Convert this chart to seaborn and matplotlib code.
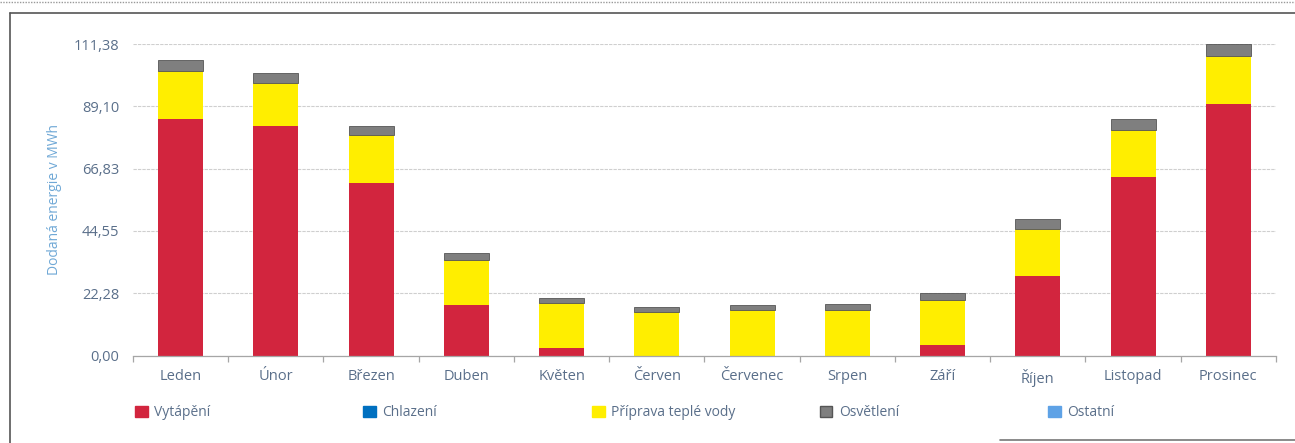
import numpy as np
import pandas as pd
import matplotlib
matplotlib.use("Agg")
import matplotlib.pyplot as plt
from matplotlib.patches import Patch
from matplotlib.lines import Line2D
import seaborn as sns

months = ["Leden", "Únor", "Březen", "Duben", "Květen", "Červen", "Červenec",
          "Srpen", "Září", "Říjen", "Listopad", "Prosinec"]
vytapeni = [84.7, 82.2, 61.8, 18.1, 2.6, 0.0, 0.0, 0.0, 3.7, 28.6, 63.8, 89.9]
chlazeni = [0.0] * 12
priprava_vody = [16.9, 15.2, 17.0, 16.0, 16.2, 15.6, 16.3, 16.4, 16.3, 16.8, 17.0, 17.2]
osvetleni = [4.0, 3.5, 3.4, 2.7, 1.9, 1.9, 1.9, 1.9, 2.5, 3.4, 3.6, 4.2]
ostatni = [0.0] * 12

yticks = [0.00, 22.28, 44.55, 66.83, 89.10, 111.38]
ytick_labels = ["0,00", "22,28", "44,55", "66,83", "89,10", "111,38"]
series_names = ["Vytápění", "Chlazení", "Příprava teplé vody", "Osvětlení", "Ostatní"]
series_colors = ["#D2253E", "#0070C0", "#FFEE00", "#7F7F7F", "#5EA2E6"]
series_edges = ["#D2253E", "#0070C0", "#FFEE00", "#555555", "#5EA2E6"]

sns.set_theme(style="white")
plt.rcParams["font.family"] = ["Open Sans", "DejaVu Sans"]

fig = plt.figure(figsize=(12.95, 4.43), dpi=100)
ax = fig.add_axes([133 / 1295, 1 - 355.5 / 443, (1276 - 133) / 1295, (355.5 - 44) / 443])

df = pd.DataFrame({"month": months, "Vytápění": vytapeni, "Chlazení": chlazeni,
                   "Příprava teplé vody": priprava_vody, "Osvětlení": osvetleni,
                   "Ostatní": ostatni})
bottom = np.zeros(len(months))
for name, col, ec in zip(series_names, series_colors, series_edges):
    vals = df[name].to_numpy()
    sns.barplot(data=df, x="month", y=name, order=months, color=col, ax=ax,
                bottom=bottom, width=0.47, saturation=1, edgecolor=ec,
                linewidth=0.6 if name == "Osvětlení" else 0)
    bottom = bottom + vals

ax.set_ylim(0, 111.38)
ax.set_xlim(-0.5, 11.5)
ax.set_yticks(yticks)
ax.set_yticklabels(ytick_labels)
ax.yaxis.grid(True, color="#CFCFCF", linewidth=0.8, linestyle=(0, (3, 1)))
ax.set_axisbelow(True)
for s in ["top", "right", "left"]:
    ax.spines[s].set_visible(False)
ax.spines["bottom"].set_color("#A6A6A6")
ax.spines["bottom"].set_linewidth(0.9)

ax.set_xlabel("")
ax.set_ylabel("Dodaná energie v MWh", color="#6FA8D6", fontsize=10, labelpad=8)
ax.tick_params(axis="y", length=0, colors="#5A6F8A", labelsize=10.5, pad=10)
ax.tick_params(axis="x", length=0, colors="#5A6F8A", labelsize=10.5, pad=10)
# boundary tick marks between categories
ax.set_xticks(np.arange(-0.5, 12.0, 1.0), minor=True)
ax.tick_params(axis="x", which="minor", bottom=True, length=4, color="#A6A6A6",
               width=0.9, direction="out")

handles = [Patch(facecolor=c, edgecolor=e, label=n)
           for n, c, e in zip(series_names, series_colors, series_edges)]
leg_x = [135, 363, 592, 820, 1048]
for h, lx in zip(handles, leg_x):
    fig.legend(handles=[h], loc="center left", bbox_to_anchor=(lx / 1295, 1 - 413 / 443),
               frameon=False, fontsize=10, handlelength=0.9, handleheight=0.9,
               handletextpad=0.5, borderaxespad=0, borderpad=0,
               labelcolor="#5A6F8A")

# outer frame lines
fig.add_artist(Line2D([10 / 1295, 10 / 1295], [0, 1 - 13 / 443], color="#555555", lw=1.2))
fig.add_artist(Line2D([10 / 1295, 1], [1 - 13 / 443, 1 - 13 / 443], color="#555555", lw=1.2))
fig.add_artist(Line2D([0, 1], [1 - 1.5 / 443, 1 - 1.5 / 443], color="#999999", lw=1, linestyle=(0, (1, 1))))
fig.add_artist(Line2D([1000 / 1295, 1], [1 - 440 / 443, 1 - 440 / 443], color="#777777", lw=1.2))

fig.savefig("out.png", dpi=100)
